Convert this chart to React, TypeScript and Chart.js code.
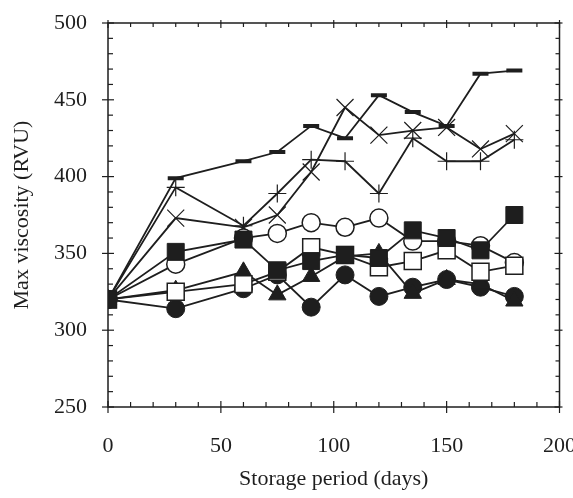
import React, { useEffect, useRef } from 'react';
import { Chart, registerables } from 'chart.js';

Chart.register(...registerables);

// Storage period (days)
const days = [0, 30, 60, 75, 90, 105, 120, 135, 150, 165, 180];

// Max viscosity (RVU) per series
const dashValues = [320, 399, 410, 416, 433, 425, 453, 442, 433, 467, 469];
const xMarkValues = [320, 373, 367, 375, 403, 445, 427, 430, 432, 418, 428];
const plusValues = [320, 393, 368, 389, 411, 410, 389, 425, 410, 410, 424];
const openCircleValues = [320, 343, 360, 363, 370, 367, 373, 358, 358, 355, 344];
const filledSquareValues = [320, 351, 359, 339, 345, 349, 347, 365, 360, 352, 375];
const openSquareValues = [320, 325, 330, 338, 354, 349, 341, 345, 352, 338, 342];
const triangleValues = [320, 326, 338, 323, 335, 348, 350, 324, 333, 330, 319];
const filledCircleValues = [320, 314, 327, 336, 315, 336, 322, 328, 333, 328, 322];

// Axis ranges / ticks
const xMin = 0;
const xMax = 200;
const xMajorStep = 50;
const xMinorStep = 10;
const yMin = 250;
const yMax = 500;
const yMajorStep = 50;
const yMinorStep = 10;

const xTitle = 'Storage period (days)';
const yTitle = 'Max viscosity (RVU)';

const INK = '#1e1e1e';
const FONT = "'Liberation Serif', 'Times New Roman', serif";

const toPoints = (vals: number[]) => days.map((d, i) => ({ x: d, y: vals[i] }));

const frameTicks = {
  id: 'frameTicks',
  beforeDatasetsDraw(chart: any) {
    const { ctx, chartArea, scales } = chart;
    const { left, right, top, bottom } = chartArea;
    const xs = scales.x;
    const ys = scales.y;
    ctx.save();
    ctx.strokeStyle = INK;
    ctx.lineWidth = 1.5;
    ctx.strokeRect(left, top, right - left, bottom - top);
    ctx.lineWidth = 1.2;
    const seg = (x1: number, y1: number, x2: number, y2: number) => {
      ctx.beginPath();
      ctx.moveTo(x1, y1);
      ctx.lineTo(x2, y2);
      ctx.stroke();
    };
    for (let v = xMin; v <= xMax + 1e-9; v += xMinorStep) {
      const px = xs.getPixelForValue(v);
      const major = Math.abs(v % xMajorStep) < 1e-9;
      seg(px, bottom + (major ? 6 : 0), px, bottom - (major ? 6 : 5));
      seg(px, top - (major ? 3 : 0), px, top + (major ? 5 : 4));
    }
    for (let v = yMin; v <= yMax + 1e-9; v += yMinorStep) {
      const py = ys.getPixelForValue(v);
      const major = Math.abs((v - yMin) % yMajorStep) < 1e-9;
      seg(left - (major ? 6 : 0), py, left + (major ? 6 : 5), py);
      seg(right + (major ? 3 : 0), py, right - (major ? 5 : 4), py);
    }
    ctx.restore();
  },
};

export default function App() {
  const canvasRef = useRef<HTMLCanvasElement | null>(null);

  useEffect(() => {
    const canvas = canvasRef.current;
    if (!canvas) return;
    const base = {
      borderColor: INK,
      borderWidth: 1.8,
      tension: 0,
      fill: false,
      pointBorderColor: INK,
    };
    const chart = new Chart(canvas, {
      type: 'line',
      data: {
        datasets: [
          {
            ...base,
            label: 'filled square',
            data: toPoints(filledSquareValues),
            pointStyle: 'rect',
            pointRadius: 12,
            pointBackgroundColor: INK,
            pointBorderWidth: 1,
          },
          {
            ...base,
            label: 'open square',
            data: toPoints(openSquareValues),
            pointStyle: 'rect',
            pointRadius: 12,
            pointBackgroundColor: '#ffffff',
            pointBorderWidth: 1.5,
          },
          {
            ...base,
            label: 'open circle',
            data: toPoints(openCircleValues),
            pointStyle: 'circle',
            pointRadius: 9,
            pointBackgroundColor: '#ffffff',
            pointBorderWidth: 1.5,
          },
          {
            ...base,
            label: 'triangle',
            data: toPoints(triangleValues),
            pointStyle: 'triangle',
            pointRadius: 10,
            pointBackgroundColor: INK,
            pointBorderWidth: 1,
          },
          {
            ...base,
            label: 'filled circle',
            data: toPoints(filledCircleValues),
            pointStyle: 'circle',
            pointRadius: 9,
            pointBackgroundColor: INK,
            pointBorderWidth: 1,
          },
          {
            ...base,
            label: 'dash',
            data: toPoints(dashValues),
            pointStyle: 'line',
            pointRadius: 8,
            pointBackgroundColor: INK,
            pointBorderWidth: 4,
          },
          {
            ...base,
            label: 'cross',
            data: toPoints(xMarkValues),
            pointStyle: 'crossRot',
            pointRadius: 12,
            pointBackgroundColor: INK,
            pointBorderWidth: 1.2,
          },
          {
            ...base,
            label: 'plus',
            data: toPoints(plusValues),
            pointStyle: 'cross',
            pointRadius: 9,
            pointBackgroundColor: INK,
            pointBorderWidth: 1.2,
          },
        ],
      },
      options: {
        responsive: false,
        animation: false,
        events: [],
        layout: { padding: { top: 23, right: 12, left: 0, bottom: 0 } },
        plugins: {
          legend: { display: false },
          tooltip: { enabled: false },
          title: { display: false },
        },
        scales: {
          x: {
            type: 'linear',
            min: xMin,
            max: xMax,
            grid: { display: false },
            border: { display: false },
            ticks: {
              stepSize: xMajorStep,
              padding: 18,
              color: INK,
              font: { family: FONT, size: 22 },
              maxRotation: 0,
            },
            title: {
              display: true,
              text: xTitle,
              color: INK,
              font: { family: FONT, size: 22 },
              padding: { top: 0, bottom: 6 },
            },
            afterFit: (scale: any) => {
              scale.height = 91;
              scale.paddingLeft = 0;
              scale.paddingRight = 0;
            },
          },
          y: {
            type: 'linear',
            min: yMin,
            max: yMax,
            grid: { display: false },
            border: { display: false },
            ticks: {
              stepSize: yMajorStep,
              padding: 13,
              color: INK,
              font: { family: FONT, size: 22 },
            },
            title: {
              display: true,
              text: yTitle,
              color: INK,
              font: { family: FONT, size: 22 },
              padding: { top: 9, bottom: 0 },
            },
            afterFit: (scale: any) => {
              scale.width = 108;
              scale.paddingTop = 0;
              scale.paddingBottom = 0;
            },
          },
        },
      } as any,
      plugins: [frameTicks],
    });
    return () => chart.destroy();
  }, []);

  return (
    <div style={{ position: 'absolute', left: 0, top: 0, width: 573, height: 498, background: '#fff' }}>
      <canvas ref={canvasRef} width={573} height={498} style={{ display: 'block' }} />
    </div>
  );
}
